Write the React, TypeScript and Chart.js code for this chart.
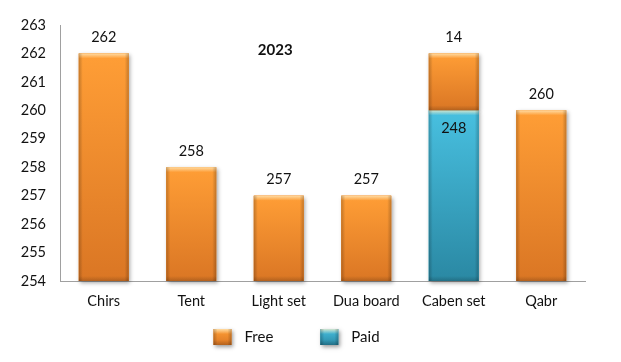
import React, { useEffect, useRef } from "react";
import { Chart, registerables } from "chart.js";

Chart.register(...registerables);

const categories = ["Chirs", "Tent", "Light set", "Dua board", "Caben set", "Qabr"];
const paidValues: (number | null)[] = [null, null, null, null, 260, null];
const freeValues: (number | null)[] = [262, 258, 257, 257, 2, 260];
const freeLabels = ["262", "258", "257", "257", "14", "260"];
const paidLabels = ["", "", "", "", "248", ""];
const yMin = 254;
const yMax = 263;
const yStep = 1;
const chartTitle = "2023";
const legendOrder = ["Free", "Paid"];

const FONT = "Lato, 'Open Sans', sans-serif";
const TEXT = "#111111";

const STYLES: Record<string, { top: string; bottom: string; mid: string }> = {
  Free: { top: "#FF9E36", bottom: "#DA7624", mid: "#F28D2E" },
  Paid: { top: "#48C0E0", bottom: "#2A88A3", mid: "#33A8C8" },
};

function paintBox(c: CanvasRenderingContext2D, left: number, top: number, w: number, h: number, st: { top: string; bottom: string }) {
  const g = c.createLinearGradient(0, top, 0, top + h);
  g.addColorStop(0, st.top);
  g.addColorStop(1, st.bottom);
  c.fillStyle = g;
  c.fillRect(left, top, w, h);
  const bev = Math.min(5, h / 2);
  const tg = c.createLinearGradient(0, top, 0, top + bev);
  tg.addColorStop(0, "rgba(255,240,200,0.75)");
  tg.addColorStop(1, "rgba(255,240,200,0)");
  c.fillStyle = tg;
  c.fillRect(left, top, w, bev);
  const sw = Math.min(4, w / 4);
  const lg = c.createLinearGradient(left, 0, left + sw, 0);
  lg.addColorStop(0, "rgba(0,0,0,0.22)");
  lg.addColorStop(1, "rgba(0,0,0,0)");
  c.fillStyle = lg;
  c.fillRect(left, top, sw, h);
  const rg = c.createLinearGradient(left + w, 0, left + w - sw, 0);
  rg.addColorStop(0, "rgba(0,0,0,0.22)");
  rg.addColorStop(1, "rgba(0,0,0,0)");
  c.fillStyle = rg;
  c.fillRect(left + w - sw, top, sw, h);
  const bg = c.createLinearGradient(0, top + h, 0, top + h - bev);
  bg.addColorStop(0, "rgba(0,0,0,0.18)");
  bg.addColorStop(1, "rgba(0,0,0,0)");
  c.fillStyle = bg;
  c.fillRect(left, top + h - bev, w, bev);
}

export default function App() {
  const ref = useRef<HTMLCanvasElement>(null);

  useEffect(() => {
    const canvas = ref.current;
    if (!canvas) return;

    const geom = (chart: any, cb: (st: any, left: number, top: number, w: number, h: number) => void) => {
      const area = chart.chartArea;
      chart.data.datasets.forEach((ds: any, di: number) => {
        const meta = chart.getDatasetMeta(di);
        const st = STYLES[ds.label];
        meta.data.forEach((el: any, i: number) => {
          if (ds.data[i] == null) return;
          const { x, y, base, width } = el.getProps(["x", "y", "base", "width"], true);
          const top = Math.max(Math.min(y, base), area.top);
          const bottom = Math.min(Math.max(y, base), area.bottom);
          if (bottom <= top) return;
          cb(st, x - width / 2, top, width, bottom - top);
        });
      });
    };

    const barPlugin = {
      id: "bevelBars",
      beforeDatasetsDraw(chart: any) {
        const c = chart.ctx;
        c.save();
        geom(chart, (st, left, top, w, h) => {
          c.save();
          c.shadowColor = "rgba(0,0,0,0.35)";
          c.shadowBlur = 4;
          c.shadowOffsetX = 1.5;
          c.shadowOffsetY = 2;
          c.fillStyle = st.mid;
          c.fillRect(left, top, w, h);
          c.restore();
        });
        c.restore();
      },
      afterDatasetsDraw(chart: any) {
        const c = chart.ctx;
        c.save();
        geom(chart, (st, left, top, w, h) => paintBox(c, left, top, w, h, st));
        c.font = `14.5px ${FONT}`;
        c.fillStyle = TEXT;
        c.textAlign = "center";
        c.textBaseline = "middle";
        chart.data.datasets.forEach((ds: any, di: number) => {
          const meta = chart.getDatasetMeta(di);
          meta.data.forEach((el: any, i: number) => {
            if (ds.data[i] == null) return;
            const { x, y } = el.getProps(["x", "y"], true);
            if (ds.label === "Free") c.fillText(freeLabels[i], x, y - 16);
            else if (paidLabels[i]) c.fillText(paidLabels[i], x, y + 18);
          });
        });
        const area = chart.chartArea;
        c.font = `bold 15px ${FONT}`;
        c.fillText(chartTitle, area.left + (area.right - area.left) * 0.41, area.top + 25);
        c.restore();
      },
      afterDraw(chart: any) {
        const c = chart.ctx;
        c.save();
        c.font = `15px ${FONT}`;
        c.textBaseline = "middle";
        c.textAlign = "left";
        const boxW = 18, boxH = 16, gap = 13, itemGap = 47;
        const widths = legendOrder.map((l) => c.measureText(l).width);
        let total = 0;
        widths.forEach((w, k) => (total += boxW + gap + w + (k < widths.length - 1 ? itemGap : 0)));
        let x = chart.width / 2 - 14 - total / 2;
        const cy = 337;
        legendOrder.forEach((l, k) => {
          const st = STYLES[l];
          c.save();
          c.shadowColor = "rgba(0,0,0,0.4)";
          c.shadowBlur = 4;
          c.shadowOffsetX = 1.5;
          c.shadowOffsetY = 2;
          c.fillStyle = st.mid;
          c.fillRect(x, cy - boxH / 2, boxW, boxH);
          c.restore();
          paintBox(c, x, cy - boxH / 2, boxW, boxH, st);
          c.fillStyle = TEXT;
          c.fillText(l, x + boxW + gap, cy);
          x += boxW + gap + widths[k] + itemGap;
        });
        c.restore();
      },
    };

    const chart = new Chart(canvas, {
      type: "bar",
      data: {
        labels: categories,
        datasets: [
          { label: "Paid", data: paidValues, backgroundColor: STYLES.Paid.mid, borderWidth: 0 },
          { label: "Free", data: freeValues, backgroundColor: STYLES.Free.mid, borderWidth: 0 },
        ],
      },
      options: {
        responsive: false,
        animation: false,
        events: [],
        layout: { padding: { top: 25, right: 36, left: 0, bottom: 0 } },
        datasets: { bar: { barPercentage: 0.57, categoryPercentage: 1 } },
        plugins: { legend: { display: false }, title: { display: false }, tooltip: { enabled: false } },
        scales: {
          x: {
            stacked: true,
            grid: { display: false, drawTicks: false },
            border: { display: true, color: "#A0A0A0", width: 1 },
            ticks: { color: TEXT, font: { family: FONT, size: 14.5 }, padding: 12, maxRotation: 0 },
            afterFit: (s: any) => { s.height = 81; },
          },
          y: {
            stacked: true,
            min: yMin,
            max: yMax,
            grid: { display: false, drawTicks: false },
            border: { display: true, color: "#A0A0A0", width: 1 },
            ticks: { stepSize: yStep, color: TEXT, font: { family: FONT, size: 14.5 }, padding: 14 },
            afterFit: (s: any) => { s.width = 60; },
          },
        },
      },
      plugins: [barPlugin],
    } as any);

    return () => chart.destroy();
  }, []);

  return (
    <div style={{ position: "fixed", left: 0, top: 0, width: 621, height: 362, background: "#fff" }}>
      <canvas ref={ref} width={621} height={362} />
    </div>
  );
}
